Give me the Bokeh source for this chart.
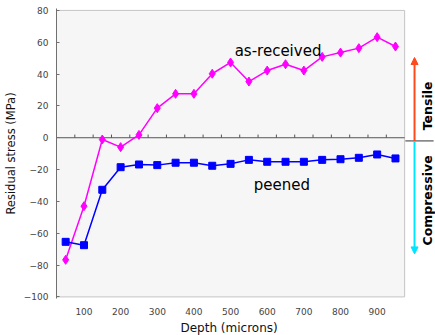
import math
from bokeh.plotting import figure
from bokeh.models import Range1d, FixedTicker, Title, Arrow, NormalHead
from bokeh.embed import file_html
from bokeh.resources import INLINE
from bokeh.core.properties import value

# ---- data ----
depth = [50, 100, 150, 200, 250, 300, 350, 400, 450, 500,
         550, 600, 650, 700, 750, 800, 850, 900, 950]
as_received = [-76.7, -43.0, -1.1, -5.9, 1.8, 18.6, 27.6, 27.6, 40.2, 47.3,
               35.3, 42.2, 46.2, 42.2, 50.8, 53.5, 56.3, 63.2, 57.3]
peened = [-65.4, -67.5, -32.7, -18.5, -16.8, -17.2, -15.7, -15.7, -17.6, -16.4,
          -13.9, -15.1, -15.1, -15.1, -13.9, -13.5, -12.6, -10.5, -13.0]
x_ticks = [100, 200, 300, 400, 500, 600, 700, 800, 900]
y_ticks = [-100, -80, -60, -40, -20, 0, 20, 40, 60, 80]
zero_ticks = [75, 125, 175, 225, 275, 325, 375, 425, 475, 525,
              575, 625, 675, 725, 775, 825, 875, 925]
x_lo, x_hi = 25, 975
y_lo, y_hi = -100, 80

FONT = "DejaVu Sans"

p = figure(width=435, height=335,
           x_range=Range1d(25, 1059.2), y_range=Range1d(-101.0, 81.2),
           output_backend="svg", toolbar_location=None,
           min_border_left=54, min_border_right=0,
           min_border_top=8, min_border_bottom=37)
p.outline_line_color = None
p.background_fill_color = "white"
p.border_fill_color = "white"
p.xgrid.visible = False
p.ygrid.visible = False

# plot-area panel
p.quad(left=[x_lo], right=[x_hi], bottom=[y_lo], top=[y_hi],
       fill_color="#f6f6f6", line_color="#c4c4c4", line_width=1)

# zero line with small ticks
p.segment(x0=[x_lo], y0=[0], x1=[x_hi], y1=[0], line_color="#555555", line_width=1)
p.segment(x0=zero_ticks, y0=[0] * len(zero_ticks), x1=zero_ticks,
          y1=[2.0] * len(zero_ticks), line_color="#555555", line_width=1)

# series
p.line(depth, as_received, line_color="#ff00ff", line_width=1.5)
p.scatter(depth, as_received, marker="diamond", size=9,
          fill_color="#ff00ff", line_color="#ff00ff")
p.line(depth, peened, line_color="#0000ff", line_width=1.5)
p.scatter(depth, peened, marker="square", size=7,
          fill_color="#0000ff", line_color="#0000ff")

# series labels
p.text(x=[629.5], y=[54.4], text=["as-received"], text_align="center",
       text_baseline="alphabetic", text_font=value(FONT),
       text_font_size="15px", text_color="black")
p.text(x=[639.8], y=[-29.4], text=["peened"], text_align="center",
       text_baseline="alphabetic", text_font=value(FONT),
       text_font_size="15px", text_color="black")

# right-side indicators
p.segment(x0=[977], y0=[-2.0], x1=[1054], y1=[-2.0], line_color="#333333", line_width=1)
p.add_layout(Arrow(end=NormalHead(size=7, fill_color="#ff4a1c", line_color="#ff4a1c"),
                   x_start=1002, y_start=-2.0, x_end=1002, y_end=50.4,
                   line_color="#ff4a1c", line_width=2))
p.add_layout(Arrow(end=NormalHead(size=7, fill_color="#00e4ff", line_color="#00e4ff"),
                   x_start=1002, y_start=-2.0, x_end=1002, y_end=-73.0,
                   line_color="#00e4ff", line_width=2))
p.text(x=[1038, 1038], y=[20.0, -39.4], text=["Tensile", "Compressive"],
       angle=math.pi / 2, text_align="center", text_baseline="middle",
       text_font=value(FONT), text_font_style="bold", text_font_size="12.5px",
       text_color="black")

# axes
xa = p.xaxis[0]
xa.ticker = FixedTicker(ticks=x_ticks)
xa.axis_line_color = None
xa.major_tick_line_color = None
xa.minor_tick_line_color = None
xa.major_label_standoff = 3
xa.major_label_text_font = FONT
xa.major_label_text_font_size = "9px"
xa.major_label_text_color = "#444444"

ya = p.yaxis[0]
ya.ticker = FixedTicker(ticks=y_ticks)
ya.axis_line_color = "#707070"
ya.major_tick_in = 3
ya.major_tick_out = 0
ya.major_tick_line_color = "#707070"
ya.minor_tick_line_color = None
ya.major_label_standoff = 8
ya.major_label_text_font = FONT
ya.major_label_text_font_size = "9px"
ya.major_label_text_color = "#444444"
ya.axis_label = "Residual stress (MPa)"
ya.axis_label_text_font = FONT
ya.axis_label_text_font_size = "11.5px"
ya.axis_label_text_font_style = "normal"
ya.axis_label_text_color = "#111111"
ya.axis_label_standoff = 3

p.add_layout(Title(text="Depth (microns)", align="left", offset=124, standoff=2,
                   text_font=FONT, text_font_size="12px", text_font_style="normal",
                   text_color="#111111"), "below")

open("out.html", "w").write(file_html(p, INLINE))
